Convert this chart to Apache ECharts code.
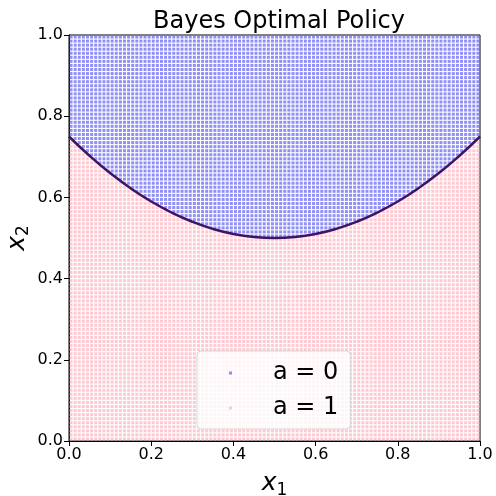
<!DOCTYPE html>
<html><head><meta charset="utf-8">
<script src="https://cdn.jsdelivr.net/npm/echarts@6/dist/echarts.min.js"></script>
<style>html,body{margin:0;padding:0;background:#fff}#c{width:496px;height:496px}</style>
</head><body><div id="c"></div>
<script>
// Tick labels
var xTicks = [0.0, 0.2, 0.4, 0.6, 0.8, 1.0];
var yTicks = [0.0, 0.2, 0.4, 0.6, 0.8, 1.0];
// Decision boundary (x1 -> x2)
var boundaryX1 = [0, 0.05, 0.1, 0.15, 0.2, 0.25, 0.3, 0.35, 0.4, 0.45, 0.5, 0.55, 0.6, 0.65, 0.7, 0.75, 0.8, 0.85, 0.9, 0.95, 1.0];
var boundaryX2 = [0.75, 0.7025, 0.66, 0.6225, 0.59, 0.5625, 0.54, 0.5225, 0.51, 0.5025, 0.50, 0.5025, 0.51, 0.5225, 0.54, 0.5625, 0.59, 0.6225, 0.66, 0.7025, 0.75];
// Evaluation grid (100 x 100 points)
var gridN = 100;
var gridStart = 0.005;
var gridStep = 0.01;
var labels = ['a = 0', 'a = 1'];

function boundaryAt(x) {
  for (var i = 0; i < boundaryX1.length - 1; i++) {
    if (x >= boundaryX1[i] && x <= boundaryX1[i + 1]) {
      var t = (x - boundaryX1[i]) / (boundaryX1[i + 1] - boundaryX1[i]);
      return boundaryX2[i] + t * (boundaryX2[i + 1] - boundaryX2[i]);
    }
  }
  return boundaryX2[boundaryX2.length - 1];
}
var pts0 = [], pts1 = [];
for (var i = 0; i < gridN; i++) {
  var gx = gridStart + i * gridStep;
  var b = boundaryAt(gx);
  for (var j = 0; j < gridN; j++) {
    var gy = gridStart + j * gridStep;
    if (gy > b) pts0.push([gx, gy]); else pts1.push([gx, gy]);
  }
}
var line = boundaryX1.map(function (x, k) { return [x, boundaryX2[k]]; });

var chart = echarts.init(document.getElementById('c'), null, {renderer: 'canvas'});
var fontFam = '"DejaVu Sans", sans-serif';
var nameRich = {
  i: {fontFamily: fontFam, fontSize: 25, fontStyle: 'italic', color: '#000'},
  s: {fontFamily: fontFam, fontSize: 17, color: '#000', verticalAlign: 'bottom', padding: [14, 0, 0, 0]}
};
chart.setOption({
  animation: false,
  title: {
    text: 'Bayes Optimal Policy', left: 274, top: 5, textAlign: 'center',
    textStyle: {fontFamily: fontFam, fontSize: 24, fontWeight: 'normal', color: '#000'}
  },
  grid: {left: 69, right: 16, top: 35, bottom: 55, outerBoundsMode: 'none', containLabel: false,
         show: true, borderColor: '#000', borderWidth: 1, backgroundColor: 'transparent'},
  graphic: [{
    type: 'text', x: 17, y: 238, rotation: Math.PI / 2,
    style: {text: '{i|x}{s|2}', rich: nameRich, align: 'center', verticalAlign: 'middle'}
  }],
  legend: {
    data: labels.map(function (l) { return {name: l, icon: 'rect'}; }),
    orient: 'vertical', left: 197, top: 351,
    itemWidth: 3, itemHeight: 3, itemGap: 11,
    padding: [10, 12, 9, 32],
    backgroundColor: 'rgba(255,255,255,0.8)', borderColor: '#d5d5d5', borderWidth: 1, borderRadius: 4,
    textStyle: {fontFamily: fontFam, fontSize: 24, color: '#000', padding: [0, 0, 0, 36]}
  },
  xAxis: {
    type: 'value', min: 0, max: 1, interval: 0.2,
    name: '{i|x}{s|1}', nameLocation: 'middle', nameGap: 27,
    nameTextStyle: {rich: nameRich},
    axisLine: {show: true, onZero: false, lineStyle: {color: '#000', width: 1}},
    axisTick: {show: true, length: 5, lineStyle: {color: '#000'}},
    axisLabel: {fontFamily: fontFam, fontSize: 16, color: '#000', margin: 6, formatter: function (v) { return v.toFixed(1); }},
    splitLine: {show: false}
  },
  yAxis: {
    type: 'value', min: 0, max: 1, interval: 0.2,
    axisLine: {show: true, onZero: false, lineStyle: {color: '#000', width: 1}},
    axisTick: {show: true, length: 5, lineStyle: {color: '#000'}},
    axisLabel: {fontFamily: fontFam, fontSize: 16, color: '#000', margin: 6, formatter: function (v) { return v.toFixed(1); }},
    splitLine: {show: false}
  },
  series: [
    {name: labels[0], type: 'scatter', symbol: 'rect', symbolSize: 3, data: pts0, itemStyle: {color: '#7373f4'}, silent: true, z: 2},
    {name: labels[1], type: 'scatter', symbol: 'rect', symbolSize: 3, data: pts1, itemStyle: {color: '#ffbcc7'}, silent: true, z: 2},
    {name: 'boundary', type: 'line', data: line, smooth: true, showSymbol: false, lineStyle: {color: '#3d1466', width: 2.5}, silent: true, z: 3}
  ]
});
</script></body></html>
